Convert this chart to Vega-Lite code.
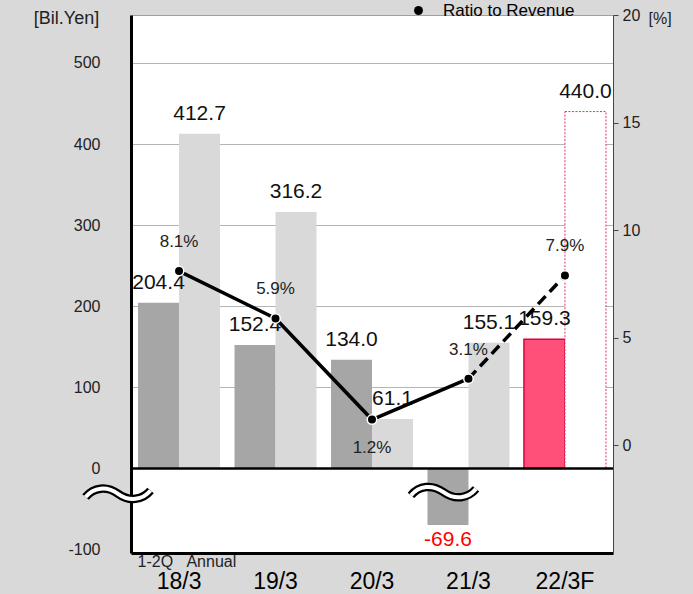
{
  "$schema": "https://vega.github.io/schema/vega-lite/v6.json",
  "width": 482,
  "height": 538,
  "autosize": {"type": "none"},
  "padding": {"left": 131, "top": 15, "right": 80, "bottom": 41},
  "background": "#d9d9d9",
  "config": {
    "view": {"fill": "white", "stroke": "#a0a0a0", "strokeWidth": 1},
    "font": "Liberation Sans"
  },
  "datasets": {
    "bars": [
      {"cat": "18/3", "series": "1-2Q", "value": 204.4},
      {"cat": "18/3", "series": "Annual", "value": 412.7},
      {"cat": "19/3", "series": "1-2Q", "value": 152.4},
      {"cat": "19/3", "series": "Annual", "value": 316.2},
      {"cat": "20/3", "series": "1-2Q", "value": 134.0},
      {"cat": "20/3", "series": "Annual", "value": 61.1},
      {"cat": "21/3", "series": "1-2Q", "value": -69.6},
      {"cat": "21/3", "series": "Annual", "value": 155.1},
      {"cat": "22/3F", "series": "1-2Q", "value": 159.3},
      {"cat": "22/3F", "series": "Annual", "value": 440.0}
    ],
    "ratio": [
      {"cat": "18/3", "ratio": 8.1},
      {"cat": "19/3", "ratio": 5.9},
      {"cat": "20/3", "ratio": 1.2},
      {"cat": "21/3", "ratio": 3.1},
      {"cat": "22/3F", "ratio": 7.9}
    ],
    "breakLeft": [{"cat": "18/3", "value": -31}],
    "breakRight": [{"cat": "21/3", "value": -29}]
  },
  "layer": [
    {
      "layer": [
        {
          "data": {"name": "bars"},
          "transform": [{"filter": "datum.cat !== '22/3F'"}],
          "mark": {"type": "bar"},
          "encoding": {
            "x": {
              "field": "cat", "type": "nominal",
              "scale": {"domain": ["18/3", "19/3", "20/3", "21/3", "22/3F"], "paddingInner": 0.15, "paddingOuter": 0.073},
              "axis": {
                "orient": "bottom", "ticks": false, "domainColor": "black", "domainWidth": 3,
                "labelAngle": 0, "labelFontSize": 23, "labelColor": "black", "labelPadding": 17,
                "labelFont": "Liberation Sans",
                "title": "1-2Q\u00a0\u00a0\u00a0Annual", "titleX": 6, "titleY": 13, "titleAlign": "left",
                "titleAnchor": "start", "titleBaseline": "alphabetic", "titleFontSize": 16,
                "titleFontWeight": "normal", "titleColor": "#222", "titleFont": "Liberation Sans"
              }
            },
            "xOffset": {"field": "series", "type": "nominal", "scale": {"domain": ["1-2Q", "Annual"], "paddingInner": 0, "paddingOuter": 0}},
            "y": {
              "field": "value", "type": "quantitative",
              "scale": {"domain": [-104, 559], "nice": false, "zero": false},
              "axis": {
                "orient": "left", "values": [-100, 0, 100, 200, 300, 400, 500], "ticks": false,
                "labelExpr": "'' + datum.value",
                "domainColor": "black", "domainWidth": 3, "labelFontSize": 16, "labelColor": "#222",
                "labelPadding": 31, "labelFont": "Liberation Sans", "grid": true,
                "gridColor": {"condition": {"test": "datum.value <= 0", "value": "transparent"}, "value": "#b4b4b4"},
                "gridWidth": 1,
                "title": "[Bil.Yen]", "titleAngle": 0, "titleX": -65, "titleY": 3, "titleAlign": "center",
                "titleBaseline": "middle", "titleFontSize": 18, "titleFontWeight": "normal",
                "titleColor": "#222", "titleFont": "Liberation Sans"
              }
            },
            "fill": {"condition": {"test": "datum.series === '1-2Q'", "value": "#a6a6a6"}, "value": "#d9d9d9"}
          }
        },
        {
          "data": {"name": "bars"},
          "transform": [{"filter": "datum.cat === '22/3F' && datum.series === '1-2Q'"}],
          "mark": {"type": "bar", "fill": "#ff507a", "stroke": "#e0003c", "strokeWidth": 1.5},
          "encoding": {
            "x": {"field": "cat", "type": "nominal"},
            "xOffset": {"field": "series", "type": "nominal"},
            "y": {"field": "value", "type": "quantitative"}
          }
        },
        {
          "data": {"name": "bars"},
          "transform": [{"filter": "datum.cat === '22/3F' && datum.series === 'Annual'"}],
          "mark": {"type": "bar", "fill": "white", "stroke": "#e8305a", "strokeWidth": 1, "strokeDash": [2, 1.5]},
          "encoding": {
            "x": {"field": "cat", "type": "nominal"},
            "xOffset": {"field": "series", "type": "nominal"},
            "y": {"field": "value", "type": "quantitative"}
          }
        },
        {
          "data": {"values": [{}]},
          "mark": {"type": "rule", "color": "black", "strokeWidth": 2.5},
          "encoding": {"y": {"datum": 0, "type": "quantitative"}}
        },
        {
          "data": {"name": "bars"},
          "transform": [{"filter": "datum.value > 0"}],
          "mark": {"type": "text", "dy": -20, "fontSize": 21, "color": "#111", "font": "Liberation Sans"},
          "encoding": {
            "x": {"field": "cat", "type": "nominal"},
            "xOffset": {"field": "series", "type": "nominal"},
            "y": {"field": "value", "type": "quantitative"},
            "text": {"field": "value", "type": "quantitative", "format": ".1f"}
          }
        },
        {
          "data": {"name": "bars"},
          "transform": [{"filter": "datum.value < 0"}],
          "mark": {"type": "text", "dy": 15, "fontSize": 21, "color": "#ff0000", "font": "Liberation Sans", "text": {"expr": "'' + datum.value"}},
          "encoding": {
            "x": {"field": "cat", "type": "nominal"},
            "xOffset": {"field": "series", "type": "nominal"},
            "y": {"field": "value", "type": "quantitative"}
          }
        },
        {
          "data": {"name": "breakLeft"},
          "mark": {
            "type": "point", "filled": false, "opacity": 1, "stroke": "black", "strokeWidth": 8.5,
            "shape": "M -1 0.1 C -0.75 -0.2 -0.35 -0.25 0 0 C 0.35 0.25 0.75 0.2 1 -0.1",
            "size": 4225, "xOffset": -61
          },
          "encoding": {
            "x": {"field": "cat", "type": "nominal"},
            "y": {"field": "value", "type": "quantitative"}
          }
        },
        {
          "data": {"name": "breakLeft"},
          "mark": {
            "type": "point", "filled": false, "opacity": 1, "stroke": "white", "strokeWidth": 4,
            "shape": "M -1 0.1 C -0.75 -0.2 -0.35 -0.25 0 0 C 0.35 0.25 0.75 0.2 1 -0.1",
            "size": 4225, "xOffset": -61
          },
          "encoding": {
            "x": {"field": "cat", "type": "nominal"},
            "y": {"field": "value", "type": "quantitative"}
          }
        },
        {
          "data": {"name": "breakRight"},
          "mark": {
            "type": "point", "filled": false, "opacity": 1, "stroke": "black", "strokeWidth": 8.5,
            "shape": "M -1 0.1 C -0.75 -0.2 -0.35 -0.25 0 0 C 0.35 0.25 0.75 0.2 1 -0.1",
            "size": 4225, "xOffset": -25
          },
          "encoding": {
            "x": {"field": "cat", "type": "nominal"},
            "y": {"field": "value", "type": "quantitative"}
          }
        },
        {
          "data": {"name": "breakRight"},
          "mark": {
            "type": "point", "filled": false, "opacity": 1, "stroke": "white", "strokeWidth": 4,
            "shape": "M -1 0.1 C -0.75 -0.2 -0.35 -0.25 0 0 C 0.35 0.25 0.75 0.2 1 -0.1",
            "size": 4225, "xOffset": -25
          },
          "encoding": {
            "x": {"field": "cat", "type": "nominal"},
            "y": {"field": "value", "type": "quantitative"}
          }
        }
      ]
    },
    {
      "data": {"name": "ratio"},
      "layer": [
        {
          "transform": [{"filter": "datum.cat !== '22/3F'"}],
          "mark": {"type": "line", "color": "black", "strokeWidth": 3.5},
          "encoding": {
            "x": {"field": "cat", "type": "nominal"},
            "y": {
              "field": "ratio", "type": "quantitative",
              "scale": {"domain": [-5, 20], "nice": false, "zero": false},
              "axis": {
                "orient": "right", "values": [0, 5, 10, 15, 20], "grid": false,
                "domainColor": "#444", "domainWidth": 1, "tickColor": "#444", "tickSize": 5,
                "labelPadding": 4, "labelFontSize": 16, "labelColor": "#222", "labelFont": "Liberation Sans",
                "title": "[%]", "titleAngle": 0, "titleX": 35, "titleY": 3, "titleAlign": "left",
                "titleBaseline": "middle", "titleFontSize": 16, "titleFontWeight": "normal",
                "titleColor": "#222", "titleFont": "Liberation Sans"
              }
            }
          }
        },
        {
          "transform": [{"filter": "datum.cat === '21/3' || datum.cat === '22/3F'"}],
          "mark": {"type": "line", "color": "black", "strokeWidth": 3.5, "strokeDash": [11, 6]},
          "encoding": {
            "x": {"field": "cat", "type": "nominal"},
            "y": {"field": "ratio", "type": "quantitative"}
          }
        },
        {
          "mark": {"type": "point", "filled": true, "opacity": 1, "size": 90, "stroke": "white", "strokeWidth": 1.5},
          "encoding": {
            "x": {"field": "cat", "type": "nominal"},
            "y": {"field": "ratio", "type": "quantitative"},
            "fill": {
              "datum": "Ratio to Revenue",
              "scale": {"range": ["black"]},
              "legend": {
                "orient": "none", "legendX": 279, "legendY": -13, "title": null, "padding": 0,
                "labelFontSize": 17, "labelColor": "black", "labelFont": "Liberation Sans",
                "symbolType": "circle", "symbolSize": 80, "symbolStrokeWidth": 0, "labelOffset": 16
              }
            }
          }
        },
        {
          "transform": [{"filter": "datum.cat !== '20/3'"}],
          "mark": {"type": "text", "dy": -29, "fontSize": 17, "color": "#222", "font": "Liberation Sans", "text": {"expr": "datum.ratio + '%'"}},
          "encoding": {
            "x": {"field": "cat", "type": "nominal"},
            "y": {"field": "ratio", "type": "quantitative"}
          }
        },
        {
          "transform": [{"filter": "datum.cat === '20/3'"}],
          "mark": {"type": "text", "dy": 28, "fontSize": 17, "color": "#222", "font": "Liberation Sans", "text": {"expr": "datum.ratio + '%'"}},
          "encoding": {
            "x": {"field": "cat", "type": "nominal"},
            "y": {"field": "ratio", "type": "quantitative"}
          }
        }
      ]
    }
  ],
  "resolve": {"scale": {"y": "independent"}}
}
